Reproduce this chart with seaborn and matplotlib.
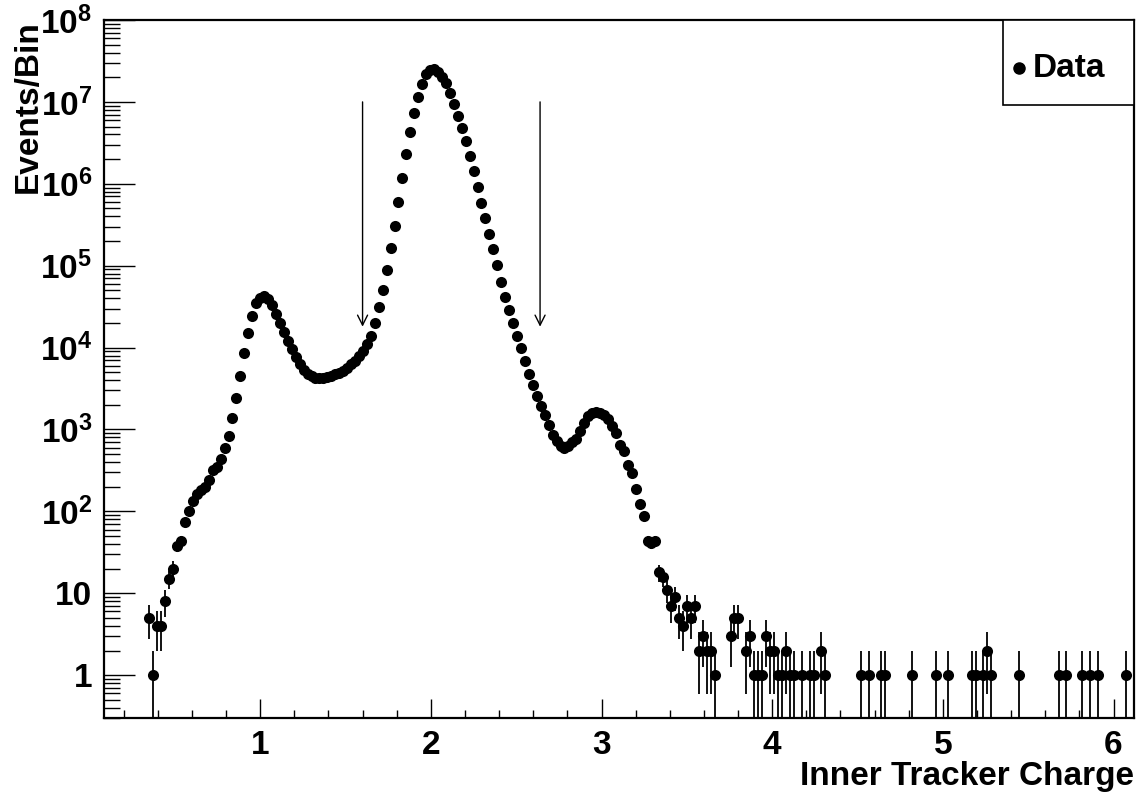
import numpy as np
import pandas as pd
import matplotlib
matplotlib.use("Agg")
import matplotlib.pyplot as plt
import seaborn as sns
from matplotlib.ticker import FixedLocator, FixedFormatter, MultipleLocator, LogLocator, NullFormatter
from matplotlib.patches import Rectangle

# ---------------- data ----------------
x_min, x_max = 0.085, 6.12          # histogram / axis range
bin_width = 0.02316                 # bin width in charge units
first_bin = 11                      # index of first filled bin of the dense part

dense_counts = [
    5, 1, 4, 4, 8, 15, 20, 38, 43, 75,
    100, 134, 165, 185, 200, 240, 320, 345, 435, 590,
    830, 1400, 2450, 4560, 8500, 15200, 24400, 34700, 40000, 42500,
    38800, 33000, 26000, 20000, 15500, 12000, 9700, 7700, 6300, 5300,
    4800, 4450, 4300, 4250, 4270, 4350, 4500, 4700, 4950, 5250,
    5700, 6250, 6900, 7800, 9200, 11000, 14000, 20000, 31600, 51000,
    89000, 163000, 308000, 600000, 1180000, 2300000, 4300000, 7400000, 11500000, 16600000,
    22000000, 24500000, 25000000, 23500000, 20400000, 17000000, 12900000, 9500000, 6800000, 4800000,
    3300000, 2200000, 1420000, 910000, 590000, 380000, 246000, 158000, 102000, 63000,
    42000, 29000, 20000, 13900, 9800, 6800, 4800, 3500, 2560, 1910,
    1490, 1120, 850, 720, 620, 600, 620, 700, 760, 960,
    1190, 1450, 1600, 1640, 1600, 1520, 1330, 1100, 900, 655,
    540, 365, 295, 190, 122, 88, 44, 41, 44, 18,
    16, 11, 7, 9, 5, 4, 7, 5, 7, 2,
    3, 2, 2, 1,
]

tail_bins = [158, 159, 160, 162, 163, 164, 165, 166, 167, 168, 169, 170, 171, 172, 173, 174,
             176, 178, 179, 181, 182, 191, 193, 196, 197, 204, 210, 213, 219, 220, 222, 223,
             224, 231, 241, 243, 247, 249, 251, 258]
tail_counts = [3, 5, 5, 2, 3, 1, 1, 1, 3, 2, 2, 1, 1, 2, 1, 1,
               1, 1, 1, 2, 1, 1, 1, 1, 1, 1, 1, 1, 1, 1, 1, 2,
               1, 1, 1, 1, 1, 1, 1, 1]

cut_values = [1.6, 2.64]
arrow_top, arrow_tip = 1e7, 1.8e4

y_tick_values = [1, 10, 1e2, 1e3, 1e4, 1e5, 1e6, 1e7, 1e8]
y_tick_labels = ["1", "10"] + [r"$\mathbf{10^{%d}}$" % k for k in range(2, 9)]
x_tick_values = [1, 2, 3, 4, 5, 6]
x_tick_labels = ["1", "2", "3", "4", "5", "6"]

# ---------------- build table ----------------
bins = np.concatenate([np.arange(first_bin, first_bin + len(dense_counts)), np.array(tail_bins)])
counts = np.concatenate([np.array(dense_counts, float), np.array(tail_counts, float)])
df = pd.DataFrame({
    "charge": x_min + (bins + 0.5) * bin_width,
    "events": counts,
})
err = np.sqrt(df["events"].values)
lo = df["events"].values - err
lo = np.where(lo > 0, lo, 1e-3)
hi = df["events"].values + err

# ---------------- style ----------------
sns.set_theme(style="ticks")
plt.rcParams["font.family"] = ["Liberation Sans", "DejaVu Sans"]
plt.rcParams["font.weight"] = "bold"
plt.rcParams["text.color"] = "black"
plt.rcParams["axes.labelcolor"] = "black"
plt.rcParams["xtick.color"] = "black"
plt.rcParams["ytick.color"] = "black"
plt.rcParams["mathtext.fontset"] = "custom"
plt.rcParams["mathtext.rm"] = "Liberation Sans:bold"
plt.rcParams["mathtext.bf"] = "Liberation Sans:bold"
plt.rcParams["mathtext.it"] = "Liberation Sans:bold"

W, H = 1136, 794
fig = plt.figure(figsize=(W / 100, H / 100), dpi=100)
fig.patch.set_facecolor("white")
ax = fig.add_axes([104 / W, 1 - 718 / H, 1030 / W, 698 / H])
ax.set_facecolor("white")
ax.set_yscale("log")

ax.vlines(df["charge"], lo, hi, color="black", lw=1.3, zorder=2)
sns.scatterplot(data=df, x="charge", y="events", ax=ax, color="black", s=64,
                linewidth=0, marker="o", zorder=3, legend=False)

for c in cut_values:
    ax.annotate("", xy=(c, arrow_tip), xytext=(c, arrow_top),
                arrowprops=dict(arrowstyle="->", lw=1.0, color="black",
                                mutation_scale=18, shrinkA=0, shrinkB=0),
                zorder=4)

ax.set_xlim(x_min, x_max)
ax.set_ylim(0.3, 1e8)
ax.set_xlabel("")
ax.set_ylabel("")

ax.yaxis.set_major_locator(FixedLocator(y_tick_values))
ax.yaxis.set_major_formatter(FixedFormatter(y_tick_labels))
ax.yaxis.set_minor_locator(LogLocator(base=10, subs=np.arange(2, 10), numticks=50))
ax.yaxis.set_minor_formatter(NullFormatter())
ax.xaxis.set_major_locator(FixedLocator(x_tick_values))
ax.xaxis.set_major_formatter(FixedFormatter(x_tick_labels))
ax.xaxis.set_minor_locator(MultipleLocator(0.2))

ax.tick_params(axis="y", which="major", direction="in", length=22, width=1.0,
               labelsize=24, pad=8.5, colors="black", left=True, right=False)
ax.tick_params(axis="y", which="minor", direction="in", length=11.5, width=1.0,
               left=True, right=False, colors="black")
ax.tick_params(axis="x", which="major", direction="in", length=14, width=1.0,
               labelsize=24, pad=9, colors="black", bottom=True, top=False)
ax.tick_params(axis="x", which="minor", direction="in", length=6, width=1.0,
               bottom=True, top=False, colors="black")
for lab in ax.get_xticklabels() + ax.get_yticklabels():
    lab.set_fontweight("bold")
    lab.set_color("black")

for s in ax.spines.values():
    s.set_visible(True)
    s.set_linewidth(1.6)
    s.set_color("black")

# legend box
ax.add_patch(Rectangle((0.873, 0.878), 0.127, 0.122, transform=ax.transAxes,
                       facecolor="white", edgecolor="black", lw=1.2, zorder=5,
                       clip_on=False))
ax.plot([0.888], [0.931], "o", transform=ax.transAxes, ms=8, color="black",
        zorder=6, clip_on=False)
ax.text(0.902, 0.931, "Data", transform=ax.transAxes, ha="left", va="center",
        fontsize=24, fontweight="bold", color="black", zorder=6)

# axis titles
fig.text(28 / W, 1 - 20 / H, "Events/Bin", rotation=90, ha="center", va="top",
         fontsize=24, fontweight="bold", color="black")
fig.text(1134 / W, 1 - 785 / H, "Inner Tracker Charge", ha="right", va="baseline",
         fontsize=24, fontweight="bold", color="black")

fig.savefig("out.png", dpi=100, facecolor="white")
